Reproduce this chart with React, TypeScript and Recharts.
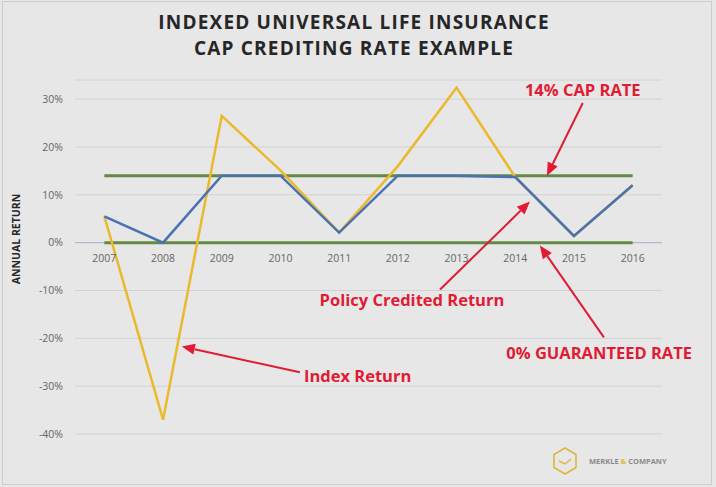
import React from "react";
import {
  CartesianGrid,
  Line,
  LineChart,
  ReferenceDot,
  ReferenceLine,
  XAxis,
  YAxis,
} from "recharts";

const years = [2007, 2008, 2009, 2010, 2011, 2012, 2013, 2014, 2015, 2016];
const indexReturn = [5.5, -37.0, 26.5, 15.1, 2.1, 16.0, 32.4, 13.7, 1.4, 12.0];
const creditedReturn = [5.5, 0, 14, 14, 2.1, 14, 14, 13.7, 1.4, 12.0];
const capRate = [14, 14, 14, 14, 14, 14, 14, 14, 14, 14];
const guaranteedRate = [0, 0, 0, 0, 0, 0, 0, 0, 0, 0];
const yTicks = [30, 20, 10, 0, -10, -20, -30, -40];

// callouts, anchored in data space (year, percent)
const callouts = [
  { text: "14% CAP RATE", tx: 2015.15, ty: 32.0, from: [2015.15, 29.2], to: [2014.54, 14], anchor: "middle" },
  { text: "Policy Credited Return", tx: 2012.24, ty: -11.9, from: [2012.72, -9.8], to: [2014.25, 8.6], anchor: "middle" },
  { text: "0% GUARANTEED RATE", tx: 2015.43, ty: -23.0, from: [2015.51, -19.8], to: [2014.42, -0.6], anchor: "middle" },
  { text: "Index Return", tx: 2010.4, ty: -27.8, from: [2010.33, -27.1], to: [2008.32, -21.7], anchor: "start" },
];

const data = years.map((year, i) => ({
  year,
  index: indexReturn[i],
  credited: creditedReturn[i],
  cap: capRate[i],
  floor: guaranteedRate[i],
}));

const RED = "#e01b33";
const FONT = "'Open Sans', 'DejaVu Sans', sans-serif";

function Arrow(props: any) {
  const { x1, y1, x2, y2 } = props;
  const a = Math.atan2(y2 - y1, x2 - x1);
  const len = 13;
  const w = 5.5;
  const bx = x2 - len * Math.cos(a);
  const by = y2 - len * Math.sin(a);
  const nx = -Math.sin(a) * w;
  const ny = Math.cos(a) * w;
  return (
    <g>
      <line x1={x1} y1={y1} x2={bx} y2={by} stroke={RED} strokeWidth={2} />
      <polygon
        points={`${x2},${y2} ${bx + nx},${by + ny} ${bx - nx},${by - ny}`}
        fill={RED}
      />
    </g>
  );
}

function Logo() {
  return (
    <svg width={160} height={36} style={{ position: "absolute", left: 548, top: 444 }}>
      <polygon
        points="17,4 28,10.5 28,23.5 17,30 6,23.5 6,10.5"
        fill="none"
        stroke="#e0b440"
        strokeWidth={1.6}
      />
      <path d="M11,17 L17,20 L23,15" fill="none" stroke="#e0b440" strokeWidth={1.4} />
      <text x={41} y={20} fontFamily={FONT} fontSize={7.5} fontWeight={700} fill="#8a8a8a">
        MERKLE <tspan fill="#e0b440">&amp;</tspan> COMPANY
      </text>
    </svg>
  );
}

const titleStyle: React.CSSProperties = {
  position: "absolute",
  left: 0,
  width: 708,
  textAlign: "center",
  fontFamily: FONT,
  fontWeight: 700,
  fontSize: 19,
  lineHeight: "26px",
  letterSpacing: 1.2,
  color: "#262626",
  whiteSpace: "nowrap",
};

export default function App() {
  return (
    <div
      style={{
        position: "absolute",
        left: 0,
        top: 0,
        width: 716,
        height: 487,
        background: "#e7e7e7",
        overflow: "hidden",
      }}
    >
      <div
        style={{
          position: "absolute",
          left: 2,
          top: 1,
          width: 710,
          height: 484,
          border: "1px solid #cdcdcd",
          boxSizing: "border-box",
        }}
      />
      <div style={{ ...titleStyle, top: 9 }}>INDEXED UNIVERSAL LIFE INSURANCE</div>
      <div style={{ ...titleStyle, top: 35 }}>CAP CREDITING RATE EXAMPLE</div>
      <div
        style={{
          position: "absolute",
          left: 16,
          top: 239,
          transform: "translate(-50%, -50%) rotate(-90deg)",
          whiteSpace: "nowrap",
          fontFamily: FONT,
          fontWeight: 700,
          fontSize: 10.5,
          color: "#262626",
        }}
      >
        ANNUAL RETURN
      </div>
      <div style={{ position: "absolute", left: 0, top: 0 }}>
        <LineChart
          width={716}
          height={487}
          data={data}
          margin={{ top: 80, right: 54, bottom: 53, left: 0 }}
        >
          <CartesianGrid stroke="#d2d2d2" vertical={false} />
          <XAxis
            type="number"
            dataKey="year"
            domain={[2006.5, 2016.5]}
            hide
          />
          <YAxis
            width={75}
            domain={[-40, 34]}
            ticks={yTicks}
            interval={0}
            axisLine={false}
            tickLine={false}
            tickSize={0}
            tickMargin={12}
            tick={{ fill: "#666", fontSize: 10.5, fontFamily: FONT }}
            tickFormatter={(v) => `${v}%`}
          />
          <ReferenceLine y={0} stroke="#a9b6cc" strokeWidth={1} />
          {years.map((y) => (
            <ReferenceDot
              key={y}
              x={y}
              y={0}
              r={0}
              shape={(p: any) => (
                <text
                  x={p.cx}
                  y={p.cy + 19}
                  textAnchor="middle"
                  fontSize={10.5}
                  fontFamily={FONT}
                  fill="#666"
                >
                  {y}
                </text>
              )}
            />
          ))}
          <Line dataKey="cap" stroke="#638944" strokeWidth={3} dot={false} isAnimationActive={false} />
          <Line dataKey="floor" stroke="#638944" strokeWidth={3} dot={false} isAnimationActive={false} />
          <Line dataKey="index" stroke="#eab92c" strokeWidth={2.5} dot={false} isAnimationActive={false} />
          <Line dataKey="credited" stroke="#4a72b2" strokeWidth={2.5} dot={false} isAnimationActive={false} />
          {callouts.map((c) => (
            <ReferenceLine
              key={c.text + "-arrow"}
              segment={[
                { x: c.from[0], y: c.from[1] },
                { x: c.to[0], y: c.to[1] },
              ]}
              shape={Arrow}
            />
          ))}
          {callouts.map((c) => (
            <ReferenceDot
              key={c.text}
              x={c.tx}
              y={c.ty}
              r={0}
              shape={(p: any) => (
                <text
                  x={p.cx}
                  y={p.cy}
                  textAnchor={c.anchor as any}
                  dominantBaseline="central"
                  fontSize={16.5}
                  fontWeight={700}
                  fontFamily={FONT}
                  fill={RED}
                >
                  {c.text}
                </text>
              )}
            />
          ))}
        </LineChart>
      </div>
      <Logo />
    </div>
  );
}
